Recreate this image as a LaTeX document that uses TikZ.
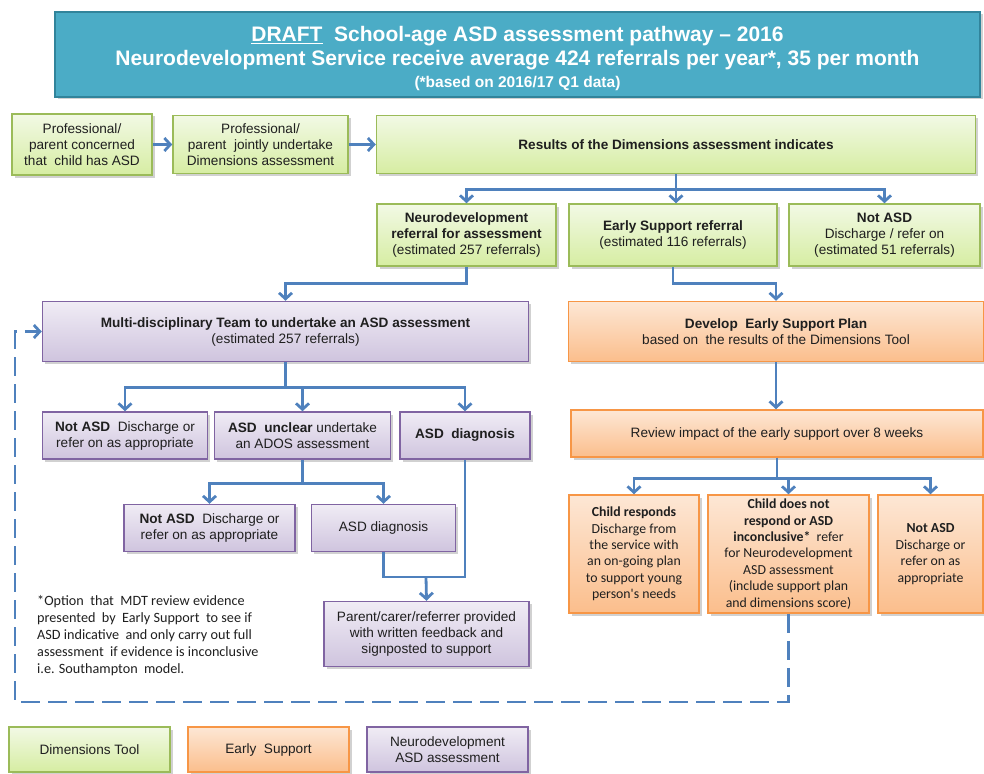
\documentclass[tikz,border=0pt]{standalone}
\usepackage{fontspec}
\setmainfont{Liberation Sans}
\newfontfamily\notefont{Carlito}
\usetikzlibrary{arrows.meta,shadows}

\definecolor{arrblue}{HTML}{4F81BD}
\definecolor{hdrfill}{HTML}{4BACC6}
\definecolor{hdrline}{HTML}{31849B}
\definecolor{grnline}{HTML}{9BBB59}
\definecolor{grntop}{HTML}{F2F9E5}
\definecolor{grnbot}{HTML}{D6EDA2}
\definecolor{orgline}{HTML}{F79646}
\definecolor{orgtop}{HTML}{FDE7D5}
\definecolor{orgbot}{HTML}{FBBE8C}
\definecolor{purline}{HTML}{8064A2}
\definecolor{purtop}{HTML}{F0ECF5}
\definecolor{purbot}{HTML}{CFC4DE}
\definecolor{txt}{HTML}{1F1F1F}

\begin{document}
\begin{tikzpicture}[x=1pt,y=-1pt]
\tikzset{Box/.style={rectangle,line width=1.5pt,align=center,inner sep=2pt,text=txt,
    font=\fontsize{13.6}{16}\selectfont,
    drop shadow={shadow xshift=2.5pt,shadow yshift=-2.5pt,opacity=.3,fill=black!60}},
  Grn/.style={Box,draw=grnline,top color=grntop,bottom color=grnbot},
  Org/.style={Box,draw=orgline,top color=orgtop,bottom color=orgbot},
  Pur/.style={Box,draw=purline,top color=purtop,bottom color=purbot},
  Cal/.style={font=\notefont\fontsize{13.8}{16.4}\selectfont},
  Arr/.style={draw=arrblue,line width=2.8pt,-{Straight Barb[length=6pt,width=13pt]}},
  Lin/.style={draw=arrblue,line width=2.8pt},
  Dsh/.style={Arr,dash pattern=on 19pt off 8pt}}

 \useasboundingbox (0,0) rectangle (984,773);

  % header
  \node[rectangle,draw=hdrline,line width=2.5pt,fill=hdrfill,text=white,align=center,
    minimum width=925pt,minimum height=85pt,
    font=\fontsize{21}{24}\selectfont\bfseries,
    drop shadow={shadow xshift=2.5pt,shadow yshift=-2.5pt,opacity=.3,fill=black!60}]
    (hdr) at (517.5,54.5) {\rule{0pt}{23pt}\underline{DRAFT}\ \ School-age ASD assessment pathway -- 2016\\
    Neurodevelopment Service receive average 424 referrals per year*, 35 per month\\[-2pt]
    {\fontsize{15.5}{18}\selectfont (*based on 2016/17 Q1 data)}};

  % dimensions tool
  \node[Grn,minimum width=140pt,minimum height=61pt] (g1) at (82,144.5)
    {Professional/\\parent concerned\\that\ \ child has ASD};
  \node[Grn,minimum width=175pt,minimum height=58pt] (g2) at (260.5,144.5)
    {Professional/\\parent\ \ jointly undertake\\Dimensions assessment};
  \node[Grn,minimum width=599pt,minimum height=58pt] (g3) at (676,144.5)
    {\textbf{Results of the Dimensions assessment indicates}};
  \node[Grn,minimum width=179pt,minimum height=62pt] (g4) at (466.5,235)
    {\textbf{Neurodevelopment}\\\textbf{referral for assessment}\\(estimated 257 referrals)};
  \node[Grn,minimum width=208pt,minimum height=62pt] (g5) at (673,235)
    {\textbf{Early Support referral}\\(estimated 116 referrals)};
  \node[Grn,minimum width=191pt,minimum height=62pt] (g6) at (884.5,235)
    {\textbf{Not ASD}\\Discharge / refer on\\(estimated 51 referrals)};

  % neurodevelopment
  \node[Pur,minimum width=486pt,minimum height=60pt] (p1) at (285.5,331.5)
    {\textbf{Multi-disciplinary Team to undertake an ASD assessment}\\(estimated 257 referrals)};
  \node[Pur,minimum width=165pt,minimum height=47pt] (p2) at (125,435.5)
    {\textbf{Not ASD}\ \ Discharge or\\refer on as appropriate};
  \node[Pur,minimum width=176pt,minimum height=47pt] (p3) at (302.5,435.5)
    {\textbf{ASD\ \ unclear} undertake\\an ADOS assessment};
  \node[Pur,minimum width=130pt,minimum height=47pt] (p4) at (465,435.5)
    {\textbf{ASD\ \ diagnosis}};
  \node[Pur,minimum width=171pt,minimum height=47pt] (p5) at (209.5,528)
    {\textbf{Not ASD}\ \ Discharge or\\refer on as appropriate};
  \node[Pur,minimum width=144pt,minimum height=47pt] (p6) at (383.5,528)
    {ASD diagnosis};
  \node[Pur,minimum width=205pt,minimum height=65pt] (p7) at (426.5,634)
    {Parent/carer/referrer provided\\with written feedback and\\signposted to support};

  % early support
  \node[Org,minimum width=415pt,minimum height=60pt] (o1) at (776,331.5)
    {\textbf{Develop\ \ Early Support Plan}\\based on\ \ the results of the Dimensions Tool};
  \node[Org,minimum width=412pt,minimum height=47pt] (o2) at (777,433.5)
    {Review impact of the early support over 8 weeks};
  \node[Org,Cal,minimum width=130pt,minimum height=118pt] (o3) at (634,554)
    {\textbf{Child responds}\\Discharge from\\the service with\\an on-going plan\\to support young\\person's needs};
  \node[Org,Cal,minimum width=161pt,minimum height=118pt] (o4) at (788.5,554)
    {\textbf{Child does not}\\\textbf{respond or ASD}\\\textbf{inconclusive*}\ \ refer\\for Neurodevelopment\\ASD assessment\\(include support plan\\and dimensions score)};
  \node[Org,Cal,minimum width=105pt,minimum height=118pt] (o5) at (930.5,554)
    {\textbf{Not ASD}\\Discharge or\\refer on as\\appropriate};

  % note
  \node[anchor=north west,align=left,inner sep=0pt,text=txt,
    font=\notefont\fontsize{14.2}{17}\selectfont] (nt) at (37,595)
    {*Option\ \ that\ \ MDT review evidence\\presented\ \ by\ \ Early Support\ \ to see if\\
     ASD indicative\ \ and only carry out full\\assessment\ \ if evidence is inconclusive\\
     i.e. Southampton\ \ model.};

  % legend
  \node[Grn,minimum width=161pt,minimum height=45pt] (l1) at (89.5,749.5) {Dimensions Tool};
  \node[Org,minimum width=161pt,minimum height=45pt] (l2) at (268.5,749.5) {Early\ \ Support};
  \node[Pur,minimum width=161pt,minimum height=45pt] (l3) at (447.5,749.5)
    {Neurodevelopment\\ASD assessment};

  \coordinate (j1) at (426,577);
  \coordinate (dl) at (15,702);

  \draw[Arr] (g1) -- (g2);
  \draw[Arr] (g2) -- (g3);
  \draw[Arr] (g3.south) -- ++(0,15) -| (g4.north);
  \draw[Arr] (g3.south) -- ++(0,15) -| (g6.north);
  \draw[Arr] (g3.south) -- (g3.south |- g5.north);
  \draw[Arr] (g4.south) -- ++(0,17) -| (p1.north);
  \draw[Arr] (g5.south) -- ++(0,17) -| (o1.north);
  \draw[Arr] (p1.south) -- ++(0,25) -| (p2.north);
  \draw[Arr] (p1.south) -- ++(0,25) -| (p3.north);
  \draw[Arr] (p1.south) -- ++(0,25) -| (p4.north);
  \draw[Arr] (p3.south) -- ++(0,24) -| (p5.north);
  \draw[Arr] (p3.south) -- ++(0,24) -| (p6.north);
  \draw[Lin] (p6.south) |- (j1) -| (p4.south);
  \draw[Arr] (j1) -- (p7.north);
  \draw[Arr] (o1.south) -- (o1.south |- o2.north);
  \draw[Arr] (o2.south) -- ++(0,21) -| (o3.north);
  \draw[Arr] (o2.south) -- ++(0,21) -| (o4.north);
  \draw[Arr] (o2.south) -- ++(0,21) -| (o5.north);
  \draw[Dsh] (o4.south) |- (dl) |- (p1.west);
\end{tikzpicture}
\end{document}
